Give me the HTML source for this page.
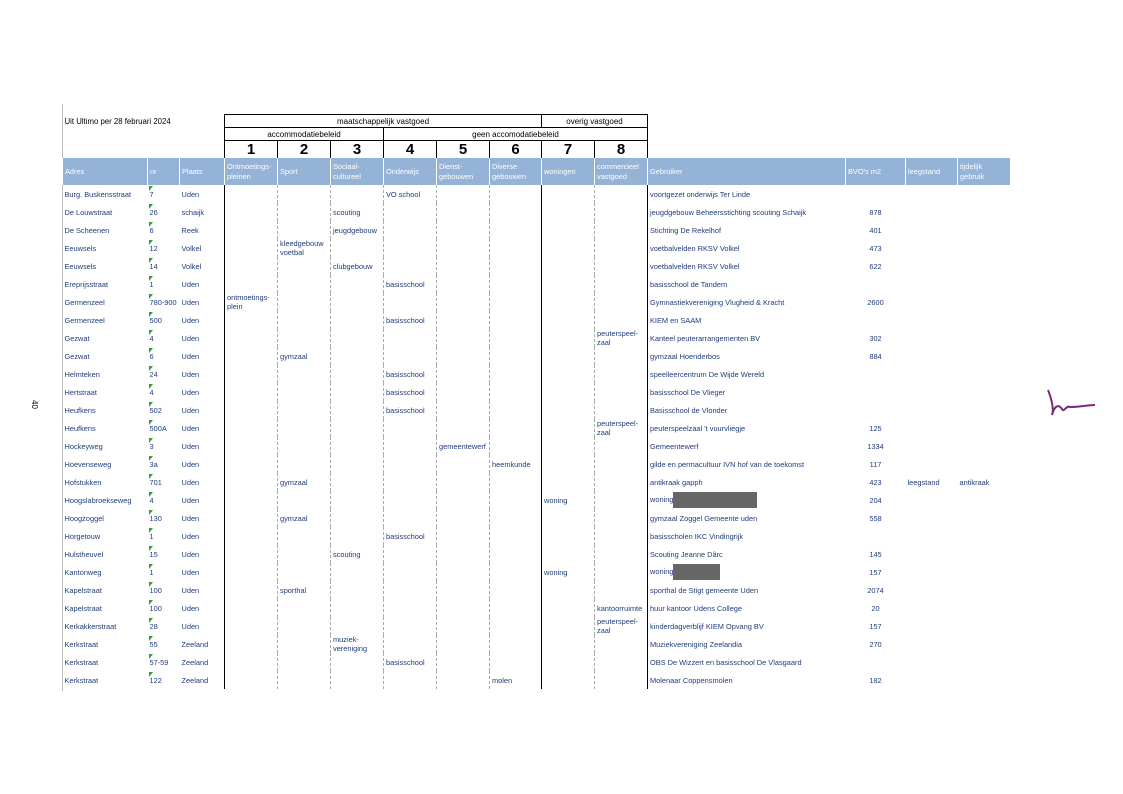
<!DOCTYPE html>
<html><head><meta charset="utf-8"><style>
body{margin:0;width:1123px;height:794px;background:#fff;position:relative;overflow:hidden;font-family:"Liberation Sans",sans-serif}
table{position:absolute;left:62px;top:114px;border-collapse:collapse;table-layout:fixed;font-size:7.4px;color:#1f3c78}
td{padding:0 2px;overflow:hidden;white-space:nowrap;vertical-align:middle;line-height:9px}
tr.d td{height:18px;padding-top:0;padding-bottom:0}
tr.d td.c{border-left:1px dashed #aaa}
tr.d td.s{border-left:1.5px solid #000}
tr.d td.e{border-right:1.5px solid #000}
.h td{background:#95b3d7;color:#fff;height:27px;font-size:7.4px;line-height:10px;border-left:1px solid #fff}
.t td{height:12px}
.t td.b{border:1.5px solid #000;text-align:center;color:#000;font-size:8px;height:12px;line-height:11px}
.n td{height:17px}
.n td.b{border:1.5px solid #000;text-align:center;color:#000;font-size:15px;font-weight:bold;height:17px;line-height:17px;border-left:1px dashed #888;border-bottom:none}
.n td.s2{border-left:1.5px solid #000}
.g{position:relative}
.g:before{content:"";position:absolute;left:1px;top:1px;border-top:5px solid #3a9a3a;border-right:4px solid transparent}
.r{text-align:center}
</style></head><body>
<div style="position:absolute;left:62px;top:104px;width:1px;height:587px;background:#bbb"></div>
<div style="position:absolute;left:30px;top:400px;font-size:8px;transform:rotate(90deg)">40</div>
<svg style="position:absolute;left:1040px;top:385px" width="60" height="35"><path d="M8 5 C12 15 14 25 12 30 C14 22 18 18 22 24 C24 28 26 20 30 22 C40 22 48 20 55 20" stroke="#7a2a7a" stroke-width="2" fill="none"/></svg>
<table>
<colgroup><col style="width:85px"><col style="width:32px"><col style="width:45px"><col style="width:53px"><col style="width:53px"><col style="width:53px"><col style="width:53px"><col style="width:53px"><col style="width:52px"><col style="width:53px"><col style="width:53px"><col style="width:198px"><col style="width:60px"><col style="width:52px"><col style="width:52px"></colgroup>
<tr class="t"><td colspan="3" rowspan="2" style="vertical-align:top;color:#000;font-size:7.8px;padding-top:2px">Uit Ultimo per 28 februari 2024</td><td class="b" colspan="6">maatschappelijk vastgoed</td><td class="b" colspan="2">overig vastgoed</td><td colspan="4"></td></tr>
<tr class="t"><td class="b" colspan="3">accommodatiebeleid</td><td class="b" colspan="5">geen accomodatiebeleid</td><td colspan="4"></td></tr>
<tr class="n"><td colspan="3"></td><td class="b s2">1</td><td class="b">2</td><td class="b">3</td><td class="b">4</td><td class="b">5</td><td class="b">6</td><td class="b s2">7</td><td class="b">8</td><td colspan="4" style="border-left:1.5px solid #000"></td></tr>
<tr class="h"><td>Adres</td><td>nr</td><td>Plaats</td><td>Ontmoetings-<br>pleinen</td><td>Sport</td><td>Sociaal-<br>cultureel</td><td>Onderwijs</td><td>Dienst-<br>gebouwen</td><td>Diverse<br>gebouwen</td><td>woningen</td><td>commercieel<br>vastgoed</td><td>Gebruiker</td><td>BVO's m2</td><td>leegstand</td><td>tijdelijk<br>gebruik</td></tr>
<tr class="d"><td>Burg. Buskensstraat</td><td class="g">7</td><td>Uden</td><td class="s"></td><td class="c"></td><td class="c"></td><td class="c">VO school</td><td class="c"></td><td class="c"></td><td class="s"></td><td class="c e"></td><td>voortgezet onderwijs Ter Linde</td><td class="r"></td><td></td><td></td></tr>
<tr class="d"><td>De Louwstraat</td><td class="g">26</td><td>schaijk</td><td class="s"></td><td class="c"></td><td class="c">scouting</td><td class="c"></td><td class="c"></td><td class="c"></td><td class="s"></td><td class="c e"></td><td>jeugdgebouw Beheersstichting scouting Schaijk</td><td class="r">878</td><td></td><td></td></tr>
<tr class="d"><td>De Scheenen</td><td class="g">6</td><td>Reek</td><td class="s"></td><td class="c"></td><td class="c">jeugdgebouw</td><td class="c"></td><td class="c"></td><td class="c"></td><td class="s"></td><td class="c e"></td><td>Stichting De Rekelhof</td><td class="r">401</td><td></td><td></td></tr>
<tr class="d"><td>Eeuwsels</td><td class="g">12</td><td>Volkel</td><td class="s"></td><td class="c">kleedgebouw<br>voetbal</td><td class="c"></td><td class="c"></td><td class="c"></td><td class="c"></td><td class="s"></td><td class="c e"></td><td>voetbalvelden RKSV Volkel</td><td class="r">473</td><td></td><td></td></tr>
<tr class="d"><td>Eeuwsels</td><td class="g">14</td><td>Volkel</td><td class="s"></td><td class="c"></td><td class="c">clubgebouw</td><td class="c"></td><td class="c"></td><td class="c"></td><td class="s"></td><td class="c e"></td><td>voetbalvelden RKSV Volkel</td><td class="r">622</td><td></td><td></td></tr>
<tr class="d"><td>Ereprijsstraat</td><td class="g">1</td><td>Uden</td><td class="s"></td><td class="c"></td><td class="c"></td><td class="c">basisschool</td><td class="c"></td><td class="c"></td><td class="s"></td><td class="c e"></td><td>basisschool de Tandem</td><td class="r"></td><td></td><td></td></tr>
<tr class="d"><td>Germenzeel</td><td class="g">780-900</td><td>Uden</td><td class="s">ontmoetings-<br>plein</td><td class="c"></td><td class="c"></td><td class="c"></td><td class="c"></td><td class="c"></td><td class="s"></td><td class="c e"></td><td>Gymnastiekvereniging Vlugheid &amp; Kracht</td><td class="r">2600</td><td></td><td></td></tr>
<tr class="d"><td>Germenzeel</td><td class="g">500</td><td>Uden</td><td class="s"></td><td class="c"></td><td class="c"></td><td class="c">basisschool</td><td class="c"></td><td class="c"></td><td class="s"></td><td class="c e"></td><td>KIEM en SAAM</td><td class="r"></td><td></td><td></td></tr>
<tr class="d"><td>Gezwat</td><td class="g">4</td><td>Uden</td><td class="s"></td><td class="c"></td><td class="c"></td><td class="c"></td><td class="c"></td><td class="c"></td><td class="s"></td><td class="c e">peuterspeel-<br>zaal</td><td>Kanteel peuterarrangementen BV</td><td class="r">302</td><td></td><td></td></tr>
<tr class="d"><td>Gezwat</td><td class="g">6</td><td>Uden</td><td class="s"></td><td class="c">gymzaal</td><td class="c"></td><td class="c"></td><td class="c"></td><td class="c"></td><td class="s"></td><td class="c e"></td><td>gymzaal Hoenderbos</td><td class="r">884</td><td></td><td></td></tr>
<tr class="d"><td>Helmteken</td><td class="g">24</td><td>Uden</td><td class="s"></td><td class="c"></td><td class="c"></td><td class="c">basisschool</td><td class="c"></td><td class="c"></td><td class="s"></td><td class="c e"></td><td>speelleercentrum De Wijde Wereld</td><td class="r"></td><td></td><td></td></tr>
<tr class="d"><td>Hertstraat</td><td class="g">4</td><td>Uden</td><td class="s"></td><td class="c"></td><td class="c"></td><td class="c">basisschool</td><td class="c"></td><td class="c"></td><td class="s"></td><td class="c e"></td><td>basisschool De Vlieger</td><td class="r"></td><td></td><td></td></tr>
<tr class="d"><td>Heufkens</td><td class="g">502</td><td>Uden</td><td class="s"></td><td class="c"></td><td class="c"></td><td class="c">basisschool</td><td class="c"></td><td class="c"></td><td class="s"></td><td class="c e"></td><td>Basisschool de Vlonder</td><td class="r"></td><td></td><td></td></tr>
<tr class="d"><td>Heufkens</td><td class="g">500A</td><td>Uden</td><td class="s"></td><td class="c"></td><td class="c"></td><td class="c"></td><td class="c"></td><td class="c"></td><td class="s"></td><td class="c e">peuterspeel-<br>zaal</td><td>peuterspeelzaal 't vuurvliegje</td><td class="r">125</td><td></td><td></td></tr>
<tr class="d"><td>Hockeyweg</td><td class="g">3</td><td>Uden</td><td class="s"></td><td class="c"></td><td class="c"></td><td class="c"></td><td class="c">gemeentewerf</td><td class="c"></td><td class="s"></td><td class="c e"></td><td>Gemeentewerf</td><td class="r">1334</td><td></td><td></td></tr>
<tr class="d"><td>Hoevenseweg</td><td class="g">3a</td><td>Uden</td><td class="s"></td><td class="c"></td><td class="c"></td><td class="c"></td><td class="c"></td><td class="c">heemkunde</td><td class="s"></td><td class="c e"></td><td>gilde en permacultuur IVN hof van de toekomst</td><td class="r">117</td><td></td><td></td></tr>
<tr class="d"><td>Hofstukken</td><td class="g">701</td><td>Uden</td><td class="s"></td><td class="c">gymzaal</td><td class="c"></td><td class="c"></td><td class="c"></td><td class="c"></td><td class="s"></td><td class="c e"></td><td>antikraak gapph</td><td class="r">423</td><td>leegstand</td><td>antikraak</td></tr>
<tr class="d"><td>Hoogslabroekseweg</td><td class="g">4</td><td>Uden</td><td class="s"></td><td class="c"></td><td class="c"></td><td class="c"></td><td class="c"></td><td class="c"></td><td class="s">woning</td><td class="c e"></td><td>woning<span style="display:inline-block;width:84px;height:16px;background:#666;vertical-align:middle"></span></td><td class="r">204</td><td></td><td></td></tr>
<tr class="d"><td>Hoogzoggel</td><td class="g">130</td><td>Uden</td><td class="s"></td><td class="c">gymzaal</td><td class="c"></td><td class="c"></td><td class="c"></td><td class="c"></td><td class="s"></td><td class="c e"></td><td>gymzaal Zoggel Gemeente uden</td><td class="r">558</td><td></td><td></td></tr>
<tr class="d"><td>Horgetouw</td><td class="g">1</td><td>Uden</td><td class="s"></td><td class="c"></td><td class="c"></td><td class="c">basisschool</td><td class="c"></td><td class="c"></td><td class="s"></td><td class="c e"></td><td>basisscholen IKC Vindingrijk</td><td class="r"></td><td></td><td></td></tr>
<tr class="d"><td>Hulstheuvel</td><td class="g">15</td><td>Uden</td><td class="s"></td><td class="c"></td><td class="c">scouting</td><td class="c"></td><td class="c"></td><td class="c"></td><td class="s"></td><td class="c e"></td><td>Scouting Jeanne Dârc</td><td class="r">145</td><td></td><td></td></tr>
<tr class="d"><td>Kantonweg</td><td class="g">1</td><td>Uden</td><td class="s"></td><td class="c"></td><td class="c"></td><td class="c"></td><td class="c"></td><td class="c"></td><td class="s">woning</td><td class="c e"></td><td>woning<span style="display:inline-block;width:47px;height:16px;background:#666;vertical-align:middle"></span></td><td class="r">157</td><td></td><td></td></tr>
<tr class="d"><td>Kapelstraat</td><td class="g">100</td><td>Uden</td><td class="s"></td><td class="c">sporthal</td><td class="c"></td><td class="c"></td><td class="c"></td><td class="c"></td><td class="s"></td><td class="c e"></td><td>sporthal de Stigt gemeente Uden</td><td class="r">2074</td><td></td><td></td></tr>
<tr class="d"><td>Kapelstraat</td><td class="g">100</td><td>Uden</td><td class="s"></td><td class="c"></td><td class="c"></td><td class="c"></td><td class="c"></td><td class="c"></td><td class="s"></td><td class="c e">kantoorruimte</td><td>huur kantoor Udens College</td><td class="r">20</td><td></td><td></td></tr>
<tr class="d"><td>Kerkakkerstraat</td><td class="g">28</td><td>Uden</td><td class="s"></td><td class="c"></td><td class="c"></td><td class="c"></td><td class="c"></td><td class="c"></td><td class="s"></td><td class="c e">peuterspeel-<br>zaal</td><td>kinderdagverblijf KIEM Opvang BV</td><td class="r">157</td><td></td><td></td></tr>
<tr class="d"><td>Kerkstraat</td><td class="g">55</td><td>Zeeland</td><td class="s"></td><td class="c"></td><td class="c">muziek-<br>vereniging</td><td class="c"></td><td class="c"></td><td class="c"></td><td class="s"></td><td class="c e"></td><td>Muziekvereniging Zeelandia</td><td class="r">270</td><td></td><td></td></tr>
<tr class="d"><td>Kerkstraat</td><td class="g">57-59</td><td>Zeeland</td><td class="s"></td><td class="c"></td><td class="c"></td><td class="c">basisschool</td><td class="c"></td><td class="c"></td><td class="s"></td><td class="c e"></td><td>OBS De Wizzert en basisschool De Vlasgaard</td><td class="r"></td><td></td><td></td></tr>
<tr class="d"><td>Kerkstraat</td><td class="g">122</td><td>Zeeland</td><td class="s"></td><td class="c"></td><td class="c"></td><td class="c"></td><td class="c"></td><td class="c">molen</td><td class="s"></td><td class="c e"></td><td>Molenaar Coppensmolen</td><td class="r">182</td><td></td><td></td></tr>
</table>
</body></html>
